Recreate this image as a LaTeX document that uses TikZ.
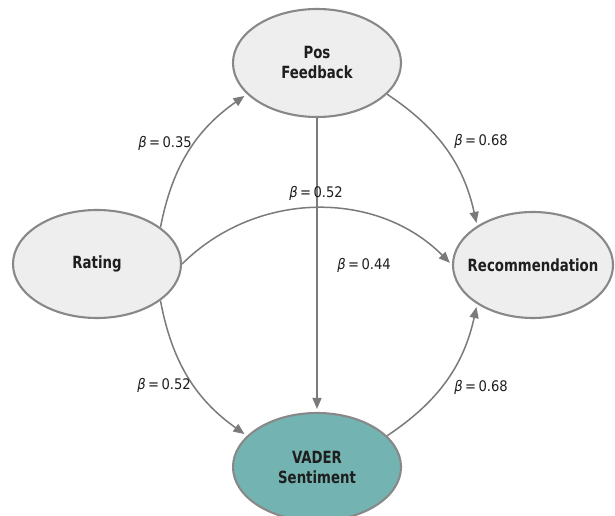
\documentclass[tikz,border=0pt]{standalone}
\usepackage{fontspec}
\setmainfont{DejaVu Sans Condensed}
\newfontfamily\nodefont[FakeStretch=0.88]{DejaVu Sans Condensed}
\usetikzlibrary{arrows.meta,shapes.geometric}
\definecolor{nodefill}{HTML}{EEEEEE}
\definecolor{edgegray}{HTML}{888888}
\definecolor{arrowgray}{HTML}{7A7A7A}
\definecolor{tealfill}{HTML}{73B4B2}
\definecolor{textdark}{HTML}{1E1E1E}
\begin{document}
\begin{tikzpicture}[x=1pt,y=1pt,
  var/.style={ellipse, draw=edgegray, line width=2.1pt, fill=nodefill,
    minimum width=168pt, minimum height=108pt, inner sep=0pt,
    font=\nodefont\fontsize{16.8}{20}\selectfont\bfseries, text=textdark, align=center},
  link/.style={draw=arrowgray, line width=1.5pt,
    -{Stealth[length=11pt,width=9pt,inset=0pt]}, shorten >=3pt},
  lbl/.style={font=\fontsize{14.6}{16}\selectfont, text=textdark, inner sep=1pt}
]
\useasboundingbox (0,0) rectangle (615,516);
\clip (0,0) rectangle (615,516);

\node[var] (pos) at (317,453) {Pos\\Feedback};
\node[var] (rat) at (97,252) {Rating};
\node[var, minimum width=160pt, minimum height=106pt] (rec) at (533,251) {\makebox[0pt]{Recommendation}};
\node[var, fill=tealfill] (vad) at (317,49) {VADER\\Sentiment};

\draw[link] (rat.30) to[bend left=22] (pos.204);
\draw[link] (rat.0) to[bend left=45] (rec.180);
\draw[link] (rat.-30) to[bend right=22] (vad.156);
\draw[link] (pos.-24) to[bend left=22] (rec.145);
\draw[link] (pos.south) -- (vad.north);
\draw[link] (vad.24) to[bend right=22] (rec.-145);

\node[lbl] (l1) at (165,373) {{\itshape β}\,=\,0.35};
\node[lbl] (l2) at (316,323) {{\itshape β}\,=\,0.52};
\node[lbl] (l3) at (364,251) {{\itshape β}\,=\,0.44};
\node[lbl] (l4) at (481,375) {{\itshape β}\,=\,0.68};
\node[lbl] (l5) at (164,131) {{\itshape β}\,=\,0.52};
\node[lbl] (l6) at (481,129) {{\itshape β}\,=\,0.68};
\end{tikzpicture}
\end{document}
